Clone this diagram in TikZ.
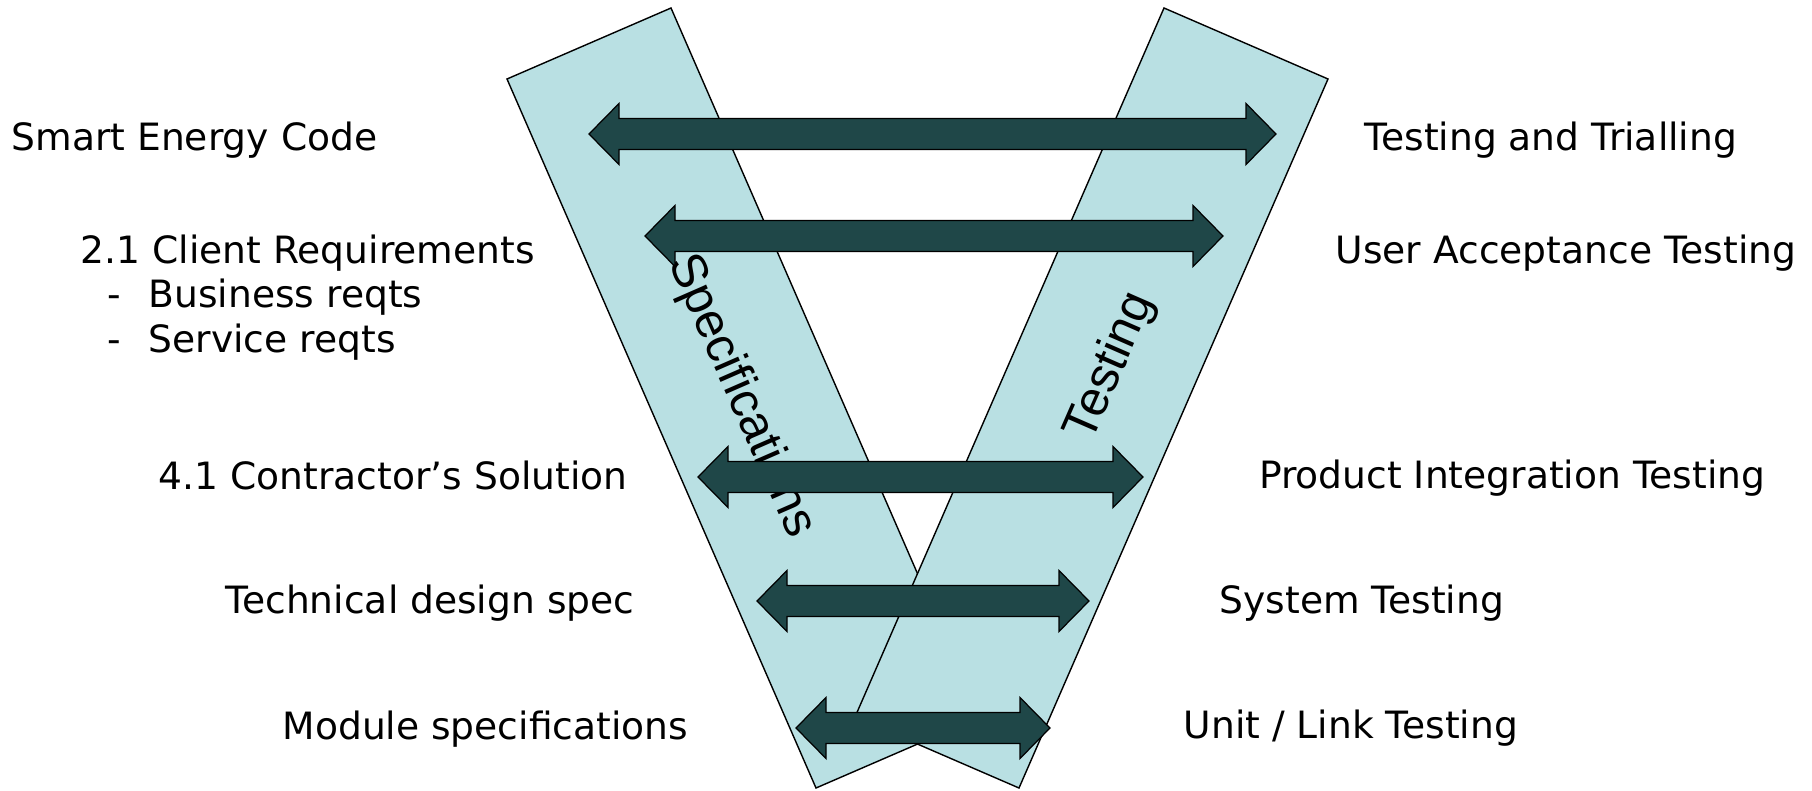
\documentclass[tikz,border=0pt]{standalone}
\usepackage{fontspec}
\setmainfont{DejaVu Sans}
\newfontfamily\bandfont{Liberation Sans}
\usepackage{tikz}
\usetikzlibrary{calc}
\definecolor{bandfill}{HTML}{B9E0E3}
\definecolor{arrowfill}{HTML}{1F4748}

\begin{document}
\begin{tikzpicture}[
		band/.style={fill=bandfill, draw=black, line width=0.4pt},
		dblarrow/.style={fill=arrowfill, draw=black, line width=0.35pt},
		lbl/.style={anchor=base west, inner sep=0pt, font=\fontsize{10.7}{12.8}\selectfont},
		bandlbl/.style={inner sep=0pt, font=\bandfont\fontsize{14}{16}\selectfont}]
			\useasboundingbox (0,0) rectangle (18.12,7.90);
			\draw[band] (5.07,7.11) -- (6.71,7.82) -- (9.80,0.73) -- (8.16,0.02) -- cycle;
			\draw[band] (13.28,7.11) -- (11.64,7.82) -- (8.55,0.73) -- (10.19,0.02) -- cycle;
			\node[bandlbl, rotate=-66.4] (spec) at (7.41,3.94) {Specifications};
			\node[bandlbl, rotate=66.4] (test) at (11.11,4.23) {Testing};
			\foreach \y/\l/\r in {6.56/5.89/12.76, 5.54/6.45/12.23, 3.13/6.98/11.43, 1.89/7.57/10.89, 0.62/7.96/10.50}
				\draw[dblarrow] (\l,\y) -- (\l+0.3,\y+0.305) -- (\l+0.3,\y+0.155) -- (\r-0.3,\y+0.155) -- (\r-0.3,\y+0.305) -- (\r,\y)
					-- (\r-0.3,\y-0.305) -- (\r-0.3,\y-0.155) -- (\l+0.3,\y-0.155) -- (\l+0.3,\y-0.305) -- cycle;
			\node[lbl] (sec) at (0.11,6.40) {Smart Energy Code};
			\node[lbl] (creq) at (0.80,5.27) {2.1 Client Requirements};
			\node[lbl] (breq) at (1.07,4.83) {\makebox[0.41cm][l]{-}Business reqts};
			\node[lbl] (sreq) at (1.07,4.38) {\makebox[0.41cm][l]{-}Service reqts};
			\node[lbl] (csol) at (1.58,3.01) {4.1 Contractor’s Solution};
			\node[lbl] (tds) at (2.25,1.77) {Technical design spec};
			\node[lbl] (mods) at (2.82,0.51) {Module specifications};
			\node[lbl] (tat) at (13.64,6.40) {Testing and Trialling};
			\node[lbl] (uat) at (13.35,5.27) {User Acceptance Testing};
			\node[lbl, anchor=base east] (pit) at (17.66,3.02) {Product Integration Testing};
			\node[lbl] (syst) at (12.19,1.77) {System Testing};
			\node[lbl] (ult) at (11.83,0.52) {Unit / Link Testing};
		\end{tikzpicture}
\end{document}
